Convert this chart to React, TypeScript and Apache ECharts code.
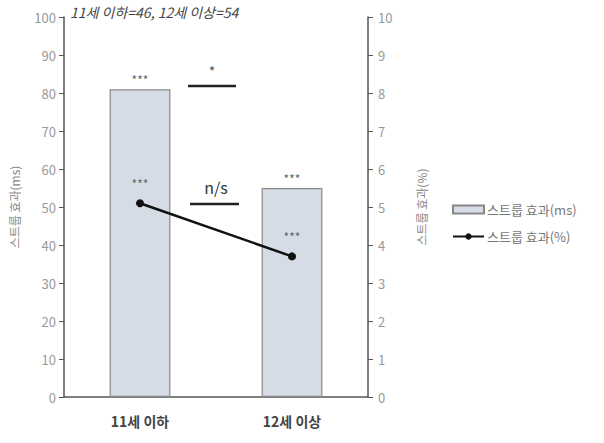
import React, { useEffect, useRef } from "react";
import * as echarts from "echarts";

const categories = ["11세 이하", "12세 이상"];
const msValues = [81, 55];
const pctValues = [5.1, 3.7];
const barLabels = ["***", "***"];
const lineLabels = ["***", "***"];
const leftTicks = { min: 0, max: 100, interval: 10 };
const rightTicks = { min: 0, max: 10, interval: 1 };
const titleText = "11세 이하=46, 12세 이상=54";
const barName = "스트룹 효과(ms)";
const lineName = "스트룹 효과(%)";

const FONT = "'Noto Sans CJK KR', 'Noto Sans', sans-serif";

export default function App() {
  const ref = useRef<HTMLDivElement>(null);
  useEffect(() => {
    if (!ref.current) return;
    const chart = echarts.init(ref.current, null, { renderer: "svg" });
    chart.setOption({
      animation: false,
      textStyle: { fontFamily: FONT },
      grid: { left: 58, right: 236, top: 17, bottom: 46 },
      legend: {
        orient: "vertical",
        left: 447,
        top: 198,
        itemWidth: 31,
        itemHeight: 8,
        itemGap: 14,
        textStyle: { color: "#777", fontSize: 13, fontFamily: FONT, padding: [0, 0, 0, -2] },
        data: [
          { name: barName, icon: "rect" },
          { name: lineName },
        ],
      },
      xAxis: {
        type: "category",
        data: categories,
        axisLine: { lineStyle: { color: "#555", width: 1.5 } },
        axisTick: { show: false },
        axisLabel: { color: "#444", fontWeight: "bold", fontSize: 14, margin: 17, fontFamily: FONT },
      },
      yAxis: [
        {
          type: "value",
          min: leftTicks.min,
          max: leftTicks.max,
          interval: leftTicks.interval,
          name: barName,
          nameLocation: "middle",
          nameRotate: 90,
          nameGap: 44,
          nameTextStyle: { color: "#888", fontSize: 12, fontFamily: FONT },
          axisLine: { show: true, lineStyle: { color: "#555", width: 1.5 } },
          axisTick: { show: true, length: 5, lineStyle: { color: "#555" } },
          axisLabel: { color: "#999", fontSize: 13, margin: 8 },
          splitLine: { show: false },
        },
        {
          type: "value",
          min: rightTicks.min,
          max: rightTicks.max,
          interval: rightTicks.interval,
          position: "right",
          name: lineName,
          nameLocation: "middle",
          nameRotate: 90,
          nameGap: 47,
          nameTextStyle: { color: "#888", fontSize: 12, fontFamily: FONT },
          axisLine: { show: true, lineStyle: { color: "#555", width: 1.5 } },
          axisTick: { show: true, length: 5, lineStyle: { color: "#555" } },
          axisLabel: { color: "#999", fontSize: 13, margin: 10 },
          splitLine: { show: false },
        },
      ],
      series: [
        {
          name: barName,
          type: "bar",
          yAxisIndex: 0,
          data: msValues,
          barWidth: "40%",
          itemStyle: { color: "#d6dce6", borderColor: "#888", borderWidth: 1.2 },
          label: {
            show: true,
            position: "top",
            distance: 4,
            color: "#666",
            fontSize: 12,
            formatter: (p: any) => barLabels[p.dataIndex],
          },
        },
        {
          name: lineName,
          type: "line",
          yAxisIndex: 1,
          data: pctValues,
          symbol: "circle",
          symbolSize: 8,
          lineStyle: { color: "#111", width: 2.5 },
          itemStyle: { color: "#111" },
          label: {
            show: true,
            position: "top",
            distance: 10,
            color: "#666",
            fontSize: 12,
            formatter: (p: any) => lineLabels[p.dataIndex],
          },
        },
      ],
      graphic: [
        {
          type: "text",
          left: 70,
          top: 5,
          style: { text: titleText, fill: "#444", font: `italic 14px ${FONT}` },
        },
        {
          type: "text",
          x: 212,
          y: 71,
          style: { text: "*", fill: "#555", font: `14px ${FONT}`, textAlign: "center", textVerticalAlign: "middle" },
        },
        {
          type: "line",
          shape: { x1: 188, y1: 86, x2: 236, y2: 86 },
          style: { stroke: "#222", lineWidth: 2.5 },
        },
        {
          type: "text",
          x: 216,
          y: 187,
          style: { text: "n/s", fill: "#333", font: `16px ${FONT}`, textAlign: "center", textVerticalAlign: "middle" },
        },
        {
          type: "line",
          shape: { x1: 190, y1: 204, x2: 239, y2: 204 },
          style: { stroke: "#222", lineWidth: 2.5 },
        },
      ],
    });
    return () => chart.dispose();
  }, []);
  return <div ref={ref} style={{ position: "absolute", left: 0, top: 0, width: 604, height: 443 }} />;
}
